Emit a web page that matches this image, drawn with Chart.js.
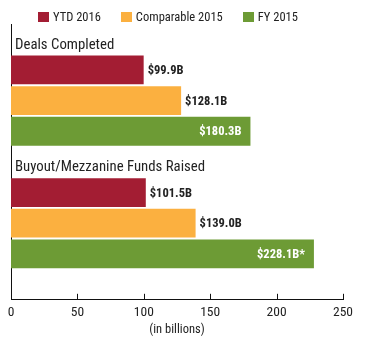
<!DOCTYPE html>
<html>
<head>
<meta charset="utf-8">
<script src="https://cdn.jsdelivr.net/npm/chart.js@4.4.1/dist/chart.umd.min.js"></script>
<style>
  html, body { margin: 0; padding: 0; background: #fff; }
  #wrap { position: relative; width: 365px; height: 342px; }
  #legend {
    position: absolute; left: 38px; top: 9px;
    display: flex; color: #222;
    font-family: Roboto, sans-serif; font-size: 12.5px; font-stretch: condensed;
    line-height: 15px;
  }
  #legend .item { display: flex; align-items: center; margin-right: 20px; }
  #legend .box { width: 11px; height: 10px; margin-right: 4px; }
</style>
</head>
<body>
<div id="wrap">
  <canvas id="dealsChart" width="365" height="342"></canvas>
  <div id="legend"></div>
</div>
<script>
// Chart data
const groups = ['Deals Completed', 'Buyout/Mezzanine Funds Raised'];
const seriesNames = ['YTD 2016', 'Comparable 2015', 'FY 2015'];
const ytd2016 = [99.9, 101.5];
const comparable2015 = [128.1, 139.0];
const fy2015 = [180.3, 228.1];
const fy2015Notes = ['', '*'];
const xTicks = [0, 50, 100, 150, 200, 250];

const FONT = 'Roboto, sans-serif';
Chart.defaults.font.family = FONT;
// font-stretch rides along in the weight slot of the canvas font string
Chart.defaults.font.weight = 'normal condensed';
Chart.defaults.color = '#222';

// one header row per group, then one row per series, plus a blank row at the bottom
const rowLabels = [];
groups.forEach(function(g) { rowLabels.push(g, '', '', ''); });
rowLabels.push('');

function toRows(values, slot) {
    const rows = rowLabels.map(function() { return null; });
    values.forEach(function(v, g) { rows[g * 4 + 1 + slot] = v; });
    return rows;
}

/**
 * Group titles drawn above each block of bars
 */
const groupTitles = {
    id: 'groupTitles',
    afterDatasetsDraw(chart) {
        const ctx = chart.ctx;
        const y = chart.scales.y;
        const step = y.getPixelForValue(1) - y.getPixelForValue(0);
        ctx.save();
        ctx.font = 'normal condensed 14.8px ' + FONT;
        ctx.fillStyle = '#222';
        ctx.textAlign = 'left';
        ctx.textBaseline = 'alphabetic';
        groups.forEach(function(g, i) {
            const py = y.getPixelForValue(i * 4) + step / 2 - 6;
            ctx.fillText(g, chart.chartArea.left + 4, py);
        });
        ctx.restore();
    }
};

/**
 * Dollar value labels at the end of each bar
 */
const valueLabels = {
    id: 'valueLabels',
    afterDatasetsDraw(chart) {
        const ctx = chart.ctx;
        ctx.save();
        ctx.font = 'bold condensed 12.5px ' + FONT;
        ctx.textBaseline = 'middle';
        chart.data.datasets.forEach(function(ds, i) {
            const meta = chart.getDatasetMeta(i);
            meta.data.forEach(function(bar, idx) {
                const v = ds.data[idx];
                if (v === null || v === undefined) return;
                const text = '$' + v.toFixed(1) + 'B' + (ds.notes ? ds.notes[Math.floor(idx / 4)] : '');
                if (ds.labelInside) {
                    ctx.fillStyle = '#fff';
                    ctx.textAlign = 'right';
                    ctx.fillText(text, bar.x - 9, bar.y + 1);
                } else {
                    ctx.fillStyle = '#222';
                    ctx.textAlign = 'left';
                    ctx.fillText(text, bar.x + 4, bar.y + 1);
                }
            });
        });
        ctx.restore();
    }
};

/**
 * Small upward tick marks on the value axis
 */
const axisTicks = {
    id: 'axisTicks',
    afterDraw(chart) {
        const ctx = chart.ctx;
        const x = chart.scales.x;
        const bottom = chart.chartArea.bottom;
        ctx.save();
        ctx.strokeStyle = '#111';
        ctx.lineWidth = 1;
        x.ticks.forEach(function(t) {
            if (t.value === 0) return;
            const px = Math.round(x.getPixelForValue(t.value)) + 0.5;
            ctx.beginPath();
            ctx.moveTo(px, bottom);
            ctx.lineTo(px, bottom - 6);
            ctx.stroke();
        });
        ctx.restore();
    }
};

const chart = new Chart(document.getElementById('dealsChart'), {
    type: 'bar',
    data: {
        labels: rowLabels,
        datasets: [
            {
                label: seriesNames[0],
                data: toRows(ytd2016, 0),
                backgroundColor: '#a31d33'
            },
            {
                label: seriesNames[1],
                data: toRows(comparable2015, 1),
                backgroundColor: '#fbb040'
            },
            {
                label: seriesNames[2],
                data: toRows(fy2015, 2),
                backgroundColor: '#6d9b35',
                labelInside: true,
                notes: fy2015Notes
            }
        ]
    },
    options: {
        indexAxis: 'y',
        responsive: false,
        animation: false,
        barPercentage: 0.94,
        categoryPercentage: 1.0,
        layout: {
            padding: { top: 24, left: 11, right: 22, bottom: 5 }
        },
        scales: {
            x: {
                stacked: true,
                min: xTicks[0],
                max: xTicks[xTicks.length - 1],
                afterBuildTicks: function(scale) {
                    scale.ticks = xTicks.map(function(v) { return { value: v }; });
                },
                grid: { display: false, drawTicks: false },
                border: { display: true, color: '#111', width: 1 },
                ticks: { font: { size: 13.5 }, padding: 5, color: '#222' },
                title: {
                    display: true,
                    text: '(in billions)',
                    font: { size: 12.5 },
                    color: '#222',
                    padding: { top: -4, bottom: 0 }
                }
            },
            y: {
                stacked: true,
                grid: { display: false, drawTicks: false },
                border: { display: true, color: '#111', width: 1 },
                ticks: { display: false }
            }
        },
        plugins: {
            legend: { display: false },
            tooltip: { enabled: false }
        }
    },
    plugins: [groupTitles, valueLabels, axisTicks]
});

// HTML legend built from the datasets
const legend = document.getElementById('legend');
chart.data.datasets.forEach(function(ds) {
    const item = document.createElement('div');
    item.className = 'item';
    const box = document.createElement('span');
    box.className = 'box';
    box.style.background = ds.backgroundColor;
    const label = document.createElement('span');
    label.textContent = ds.label;
    item.appendChild(box);
    item.appendChild(label);
    legend.appendChild(item);
});
</script>
</body>
</html>
